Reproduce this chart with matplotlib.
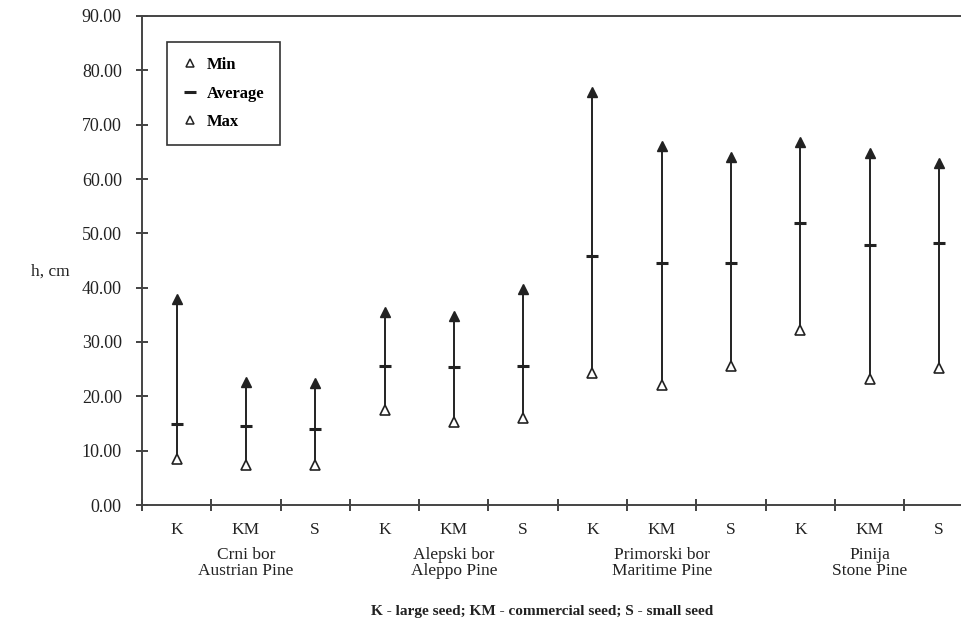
import matplotlib
matplotlib.use("Agg")
import matplotlib.pyplot as plt
from matplotlib.lines import Line2D
import numpy as np

# seed classes inside each species group
seed_types = ["K", "KM", "S"] * 4
species = ["Crni bor\nAustrian Pine", "Alepski bor\nAleppo Pine",
           "Primorski bor\nMaritime Pine", "Pinija\nStone Pine"]

h_min = [8.5, 7.3, 7.3, 17.5, 15.3, 16.0, 24.3, 22.0, 25.5, 32.3, 23.2, 25.3]
h_avg = [15.0, 14.6, 14.0, 25.6, 25.4, 25.6, 45.8, 44.5, 44.5, 51.9, 47.9, 48.3]
h_max = [38.0, 22.7, 22.5, 35.5, 34.8, 39.8, 76.0, 66.0, 64.0, 66.8, 64.8, 62.9]

plt.rcParams['font.family'] = ['Liberation Serif', 'DejaVu Serif']
txt = '#222222'
ln = '#222222'

fig = plt.figure(figsize=(9.61, 6.28), dpi=100)
ax = fig.add_axes([142 / 961, 1 - 505 / 628, 12 * 69.3 / 961, (505 - 16) / 628])

x = np.arange(len(seed_types)) + 0.5
ax.vlines(x, h_min, h_max, color=ln, lw=1.4)
ax.plot(x, h_max, linestyle='none', marker='^', ms=7, color=ln)
ax.plot(x, h_min, linestyle='none', marker='^', ms=7, mfc='white', mec=ln, mew=1.2)
ax.plot(x, h_avg, linestyle='none', marker='_', ms=8, mew=2.2, color=ln)

ax.set_xlim(0, 12)
ax.set_ylim(0, 90)
ax.set_yticks(np.arange(0, 91, 10))
ax.set_yticklabels([f"{v:.2f}" for v in np.arange(0, 91, 10)], fontsize=13, color=txt)
ax.set_xticks(np.arange(0, 13))
ax.set_xticklabels([])
ax.set_xticks(x, minor=True)
ax.set_xticklabels(seed_types, minor=True, fontsize=12.5, color=txt)
ax.tick_params(axis='both', which='major', direction='inout', length=9, width=1.2, color=ln)
ax.tick_params(axis='y', pad=10)
ax.tick_params(axis='x', which='minor', length=0, pad=12)

for s in ['left', 'bottom', 'top']:
    ax.spines[s].set_color('#444444')
    ax.spines[s].set_linewidth(1.4)
ax.spines['right'].set_visible(False)

for i, name in enumerate(species):
    ax.annotate(name, xy=(3 * i + 1.5, 0), xycoords=('data', 'axes fraction'),
                xytext=(0, -30), textcoords='offset points',
                ha='center', va='top', fontsize=12.5, color=txt, linespacing=1.05)

fig.text(50 / 961, 1 - 272 / 628, "h, cm", ha='center', va='center', fontsize=12.5, color=txt)
fig.text(542 / 961, 1 - 612 / 628, "K - large seed; KM - commercial seed; S - small seed",
         ha='center', va='center', fontsize=11, fontweight='bold', color=txt)

handles = [
    Line2D([], [], linestyle='none', marker='^', ms=6, mfc='white', mec=ln, mew=1.1),
    Line2D([], [], linestyle='none', marker='_', ms=8, mew=2.2, color=ln),
    Line2D([], [], linestyle='none', marker='^', ms=6, mfc='white', mec=ln, mew=1.1),
]
leg = fig.legend(handles, ["Min", "Average", "Max"], loc='upper left',
                 bbox_to_anchor=(167 / 961, 1 - 42 / 628), borderaxespad=0,
                 fancybox=False, edgecolor='#333333', framealpha=1, handlelength=1.0,
                 handletextpad=0.5, labelspacing=0.75, borderpad=0.9,
                 prop={'weight': 'bold', 'size': 12})
leg.get_frame().set_linewidth(1.2)

fig.savefig("out.png", dpi=100)
